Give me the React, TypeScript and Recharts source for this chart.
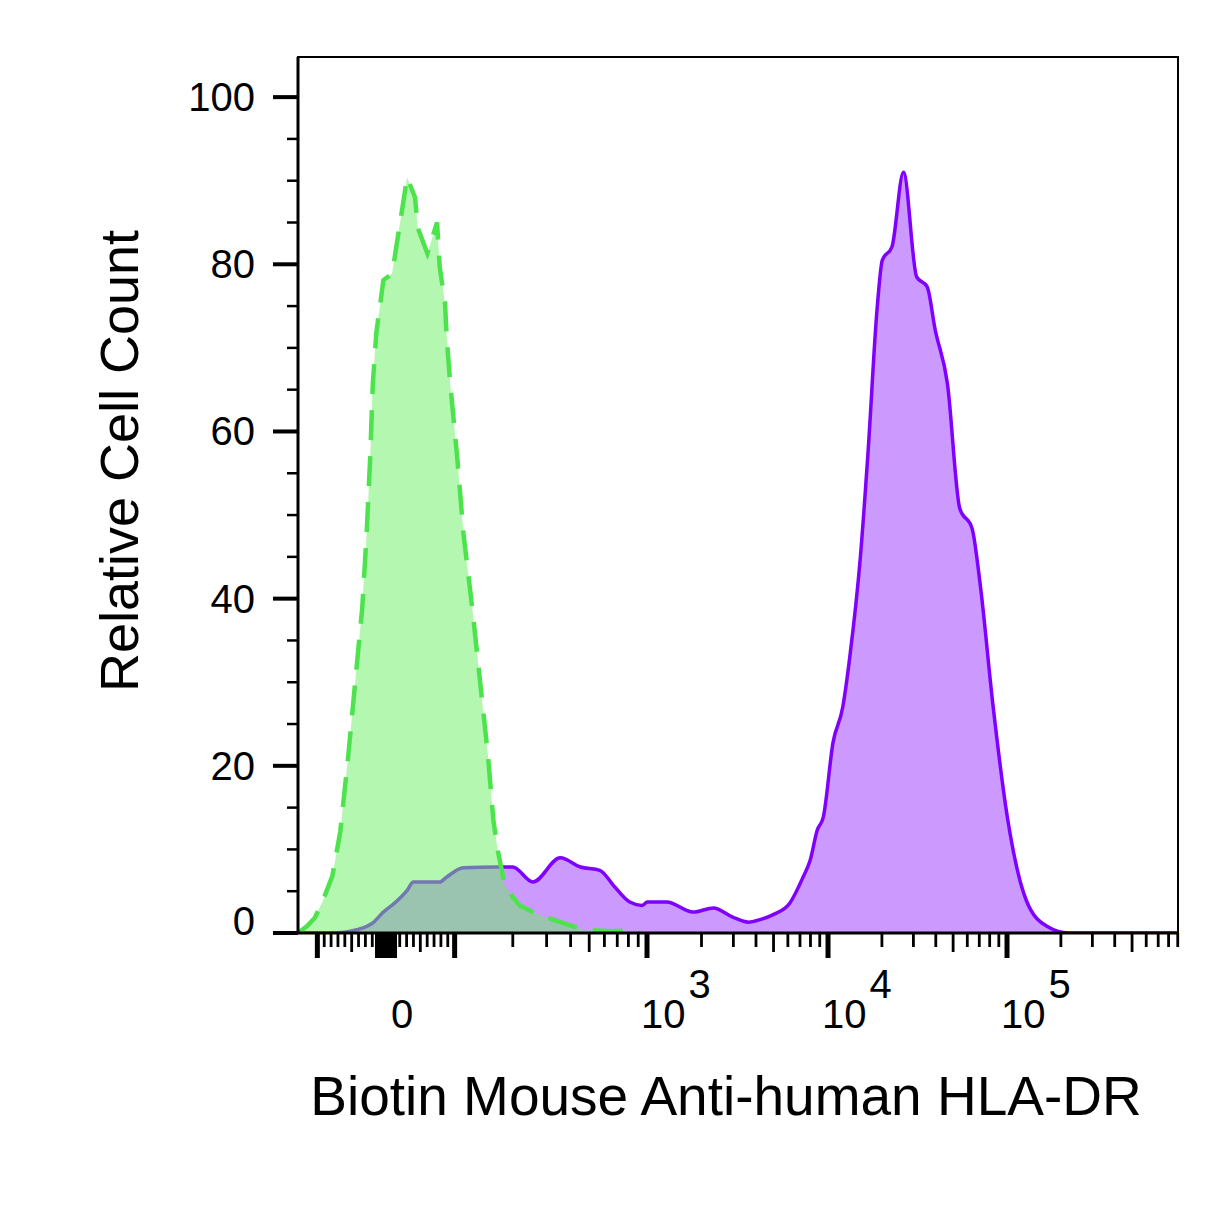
import React from 'react';
import { ComposedChart, Area, XAxis, YAxis, ReferenceArea } from 'recharts';

const FONT = '"Liberation Sans", Arial, Helvetica, sans-serif';

// ---------- data (x in display channels 0..1000, y = relative cell count) ----------
const GREEN_CH = [0, 10, 19, 28, 39, 48, 57, 65, 73, 78, 82, 85, 89, 93, 97, 107, 124, 133, 136, 147, 158, 161, 167, 169, 173, 181, 188, 198, 207, 216, 222, 227, 235, 244, 252, 269, 290, 324, 355, 372, 389];
const GREEN_COUNT = [0, 0.8, 1.8, 3.8, 6.8, 12.1, 21.1, 30, 38.9, 47.8, 56.8, 65.7, 71.8, 74.9, 78.1, 78.9, 90.4, 88, 84.4, 81.3, 85, 79.7, 75.4, 71.2, 65.7, 56.8, 47.8, 38.9, 30, 21.1, 13.5, 9.9, 5.7, 4.3, 3.3, 2.4, 1.6, 0.4, 0.2, 0.3, 0];

const PURPLE_CH = [0, 40, 53, 67, 85, 97, 110, 124, 131, 161, 169, 188, 226, 244, 267, 298, 321, 343, 360, 377, 391, 397, 419, 449, 472, 494, 512, 525, 540, 559, 574, 582, 590, 597, 608, 619, 627, 639, 648, 658, 664, 675, 688, 703, 715, 724, 738, 752, 766, 775, 790, 806, 828, 851, 876, 1000];
const PURPLE_COUNT = [0, 0, 0.1, 0.4, 1.2, 2.5, 3.6, 5.1, 6.1, 6.1, 6.7, 7.8, 7.9, 7.9, 6.1, 9.0, 7.9, 7.5, 5.5, 3.7, 3.3, 3.7, 3.7, 2.5, 3.0, 1.9, 1.3, 1.6, 2.2, 3.6, 6.7, 8.7, 12.3, 13.9, 22.8, 27.0, 33.0, 44.9, 57.9, 74.6, 80.5, 82.1, 91.0, 78.5, 77.3, 72.2, 65.7, 50.8, 48.4, 41.9, 27.0, 13.9, 3.8, 0.8, 0, 0];

const greenData = GREEN_CH.map((x, i) => ({ x, count: GREEN_COUNT[i] }));
const purpleData = PURPLE_CH.map((x, i) => ({ x, count: PURPLE_COUNT[i] }));

// ---------- axis scale description ----------
const X_MIN = 0;
const X_MAX = 1000;
const Y_MAX = 104.8;
const DECADE_VALUES = [100, 1000, 10000, 100000, 1000000];
const DECADE_CHANNELS = [178.4, 396.6, 602.3, 805.7, 1009];
const ZERO_CHANNEL = 100;
const LINEAR_SLOPE = 0.78;

const MAJOR_VALUES = [-100, 100, 1000, 10000, 100000];
const MID_VALUES = [-50, 50, 500, 5000, 50000, 500000];
const LINEAR_MINOR_VALUES = [-90, -80, -70, -60, -40, -30, -20, -10, 10, 20, 30, 40, 60, 70, 80, 90];
const LOG_MINOR_MULTIPLIERS = [2, 3, 4, 6, 7, 8, 9];
const LOG_MINOR_DECADES = [100, 1000, 10000, 100000];
const X_TICK_LABELS = [
  { value: 0, base: '0', exp: '' },
  { value: 1000, base: '10', exp: '3' },
  { value: 10000, base: '10', exp: '4' },
  { value: 100000, base: '10', exp: '5' },
];

const Y_TICKS = [0, 5, 10, 15, 20, 25, 30, 35, 40, 45, 50, 55, 60, 65, 70, 75, 80, 85, 90, 95, 100];
const Y_MAJOR_STEP = 20;

function toChannel(v: number): number {
  if (Math.abs(v) <= 100) return ZERO_CHANNEL + v * LINEAR_SLOPE;
  for (let i = 0; i < DECADE_VALUES.length - 1; i++) {
    if (v >= DECADE_VALUES[i] && v < DECADE_VALUES[i + 1]) {
      const f = Math.log10(v) - Math.log10(DECADE_VALUES[i]);
      return DECADE_CHANNELS[i] + f * (DECADE_CHANNELS[i + 1] - DECADE_CHANNELS[i]);
    }
  }
  return X_MAX;
}

type XT = { ch: number; kind: string; base: string; exp: string };
const xTickList: XT[] = [];
xTickList.push({ ch: toChannel(0), kind: 'zero', base: '', exp: '' });
MAJOR_VALUES.forEach((v) => xTickList.push({ ch: toChannel(v), kind: 'major', base: '', exp: '' }));
MID_VALUES.forEach((v) => xTickList.push({ ch: toChannel(v), kind: 'mid', base: '', exp: '' }));
LINEAR_MINOR_VALUES.forEach((v) => xTickList.push({ ch: toChannel(v), kind: 'minor', base: '', exp: '' }));
LOG_MINOR_DECADES.forEach((d) =>
  LOG_MINOR_MULTIPLIERS.forEach((m) => xTickList.push({ ch: toChannel(d * m), kind: 'minor', base: '', exp: '' }))
);
X_TICK_LABELS.forEach((l) => {
  const t = xTickList.find((tt) => Math.abs(tt.ch - toChannel(l.value)) < 1e-6);
  if (t) {
    t.base = l.base;
    t.exp = l.exp;
  }
});
const xTickList2 = xTickList.filter((t) => t.ch >= X_MIN && t.ch <= X_MAX).sort((a, b) => a.ch - b.ch);
const X_TICK_VALUES = xTickList2.map((t) => t.ch);

// ---------- layout ----------
const CHART_W = 1210;
const CHART_H = 1200;
const MARGIN = { top: 49, right: 40, left: 0, bottom: 0 };
const Y_AXIS_W = 290;
const X_AXIS_H = 275;

function XTick(props: any) {
  const { x, y, payload } = props;
  const t = xTickList2.find((tt) => Math.abs(tt.ch - payload.value) < 1e-6);
  if (!t) return null;
  let mark: React.ReactNode = null;
  if (t.kind === 'zero') {
    mark = <rect x={x - 11} y={y} width={22} height={25} fill="#000" />;
  } else {
    const len = t.kind === 'major' ? 25 : t.kind === 'mid' ? 19 : 14;
    const w = t.kind === 'major' ? 5 : 2.8;
    mark = <line x1={x} x2={x} y1={y} y2={y + len} stroke="#000" strokeWidth={w} />;
  }
  let label: React.ReactNode = null;
  if (t.base === '0') {
    label = (
      <text x={x + 16} y={y + 95} textAnchor="middle" fontSize={40} fontFamily={FONT} fill="#000">
        0
      </text>
    );
  } else if (t.base) {
    label = (
      <text x={x - 6} y={y + 95} textAnchor="start" fontSize={40} fontFamily={FONT} fill="#000">
        {t.base}
        <tspan dx={3} dy={-30}>
          {t.exp}
        </tspan>
      </text>
    );
  }
  return (
    <g>
      {mark}
      {label}
    </g>
  );
}

function YTick(props: any) {
  const { x, y, payload } = props;
  const v = payload.value;
  const major = v % Y_MAJOR_STEP === 0;
  return (
    <g>
      <line x1={x - (major ? 25 : 11)} x2={x} y1={y} y2={y} stroke="#000" strokeWidth={major ? 4 : 2.5} />
      {major && (
        <text
          x={x - 43}
          y={y + 14 - (v === 0 ? 12 : 0)}
          textAnchor="end"
          fontSize={40}
          fontFamily={FONT}
          fill="#000"
        >
          {v}
        </text>
      )}
    </g>
  );
}

const PLOT_LEFT = MARGIN.left + Y_AXIS_W;
const PLOT_RIGHT = CHART_W - MARGIN.right;
const PLOT_TOP = MARGIN.top;
const PLOT_BOTTOM = CHART_H - MARGIN.bottom - X_AXIS_H;

function XTitle() {
  return (
    <text
      x={(PLOT_LEFT + PLOT_RIGHT) / 2 - 12}
      y={PLOT_BOTTOM + 182}
      textAnchor="middle"
      fontSize={55}
      fontFamily={FONT}
      fill="#000"
    >
      Biotin Mouse Anti-human HLA-DR
    </text>
  );
}

function YTitle() {
  const cx = 130;
  const cy = (PLOT_TOP + PLOT_BOTTOM) / 2 - 34;
  return (
    <text
      x={cx}
      y={cy}
      transform={`rotate(-90, ${cx}, ${cy})`}
      textAnchor="middle"
      fontSize={54}
      fontFamily={FONT}
      fill="#000"
    >
      Relative Cell Count
    </text>
  );
}

export default function App() {
  return (
    <div style={{ width: CHART_W, height: CHART_H, background: '#fff' }}>
      <ComposedChart width={CHART_W} height={CHART_H} margin={MARGIN}>
        <XAxis
          type="number"
          dataKey="x"
          domain={[X_MIN, X_MAX]}
          ticks={X_TICK_VALUES}
          interval={0}
          tickSize={0}
          tickMargin={0}
          tickLine={false}
          tick={<XTick />}
          height={X_AXIS_H}
          axisLine={{ stroke: '#000', strokeWidth: 3 }}
          allowDataOverflow
          label={<XTitle />}
        />
        <YAxis
          type="number"
          domain={[0, Y_MAX]}
          ticks={Y_TICKS}
          interval={0}
          tickSize={0}
          tickMargin={0}
          tickLine={false}
          tick={<YTick />}
          width={Y_AXIS_W}
          axisLine={{ stroke: '#000', strokeWidth: 3 }}
          allowDataOverflow
          label={<YTitle />}
        />
        <Area
          data={purpleData}
          dataKey="count"
          type="monotoneX"
          stroke="#7f00ff"
          strokeWidth={3.5}
          fill="#cc99ff"
          fillOpacity={1}
          isAnimationActive={false}
          dot={false}
          activeDot={false}
        />
        <Area
          data={greenData}
          dataKey="count"
          type="linear"
          stroke="#4de34d"
          strokeWidth={4.5}
          strokeDasharray="30 16"
          fill="#67ef61"
          fillOpacity={0.5}
          isAnimationActive={false}
          dot={false}
          activeDot={false}
        />
        <ReferenceArea
          x1={X_MIN}
          x2={X_MAX}
          y1={0}
          y2={Y_MAX}
          fill="none"
          stroke="#000"
          strokeWidth={2}
          ifOverflow="visible"
        />
      </ComposedChart>
    </div>
  );
}
